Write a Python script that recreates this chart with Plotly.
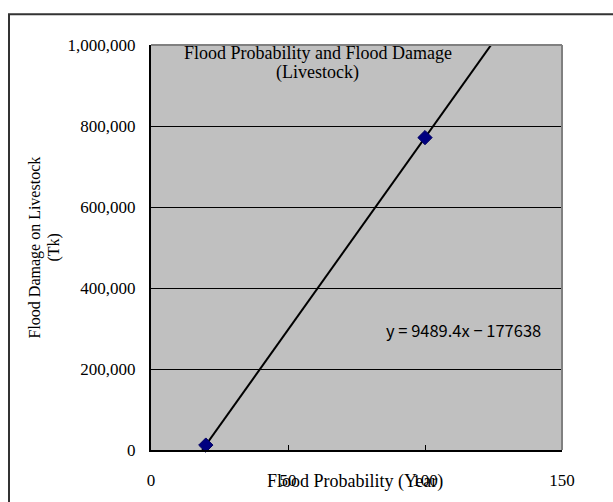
import plotly.graph_objects as go

# Data
return_period = [20, 100]          # Flood probability (year)
damage = [12150, 771300]            # Flood damage on livestock (Tk)

# Trendline shown on the chart: y = 9489.4x - 177638
slope = 9489.4
intercept = -177638
trend_x = [18.7, 130]
trend_y = [slope * x + intercept for x in trend_x]

x_ticks = [0, 50, 100, 150]
y_ticks = [0, 200000, 400000, 600000, 800000, 1000000]

W, H = 613, 502
L, R, T, B = 151, 51, 45, 50
pw, ph = W - L - R, H - T - B

def px(xpix):
    return (xpix - L) / pw

def py(ypix):
    return (H - B - ypix) / ph

serif = "Liberation Serif, Times New Roman, serif"

fig = go.Figure()
fig.add_trace(go.Scatter(
    x=trend_x, y=trend_y, mode="lines",
    line=dict(color="black", width=2), showlegend=False, hoverinfo="skip"))
fig.add_trace(go.Scatter(
    x=return_period, y=damage, mode="markers",
    marker=dict(symbol="diamond", size=11, color="#000080",
                line=dict(color="#000060", width=1)),
    showlegend=False, cliponaxis=False))

fig.update_layout(
    width=W, height=H,
    margin=dict(l=L, r=R, t=T, b=B),
    paper_bgcolor="white", plot_bgcolor="#c0c0c0",
    font=dict(family=serif, size=17, color="black"),
    xaxis=dict(range=[0, 150], tickvals=x_ticks, ticktext=[str(v) for v in x_ticks],
               showgrid=False, zeroline=False,
               showline=True, linecolor="black", linewidth=2,
               ticks="inside", ticklen=5, tickcolor="black",
               ticklabelstandoff=14, tickfont=dict(family=serif, size=17, color="black")),
    yaxis=dict(range=[0, 1000000], tickvals=y_ticks,
               ticktext=[f"{v:,}" for v in y_ticks],
               showgrid=True, gridcolor="black", gridwidth=1, zeroline=False,
               showline=True, linecolor="black", linewidth=2,
               ticks="inside", ticklen=5, tickcolor="black",
               ticklabelstandoff=10, tickfont=dict(family=serif, size=17, color="black")),
    shapes=[
        # plot-area top/right border (gray)
        dict(type="line", xref="paper", yref="paper", x0=0, x1=1, y0=1, y1=1,
             line=dict(color="#808080", width=2), layer="above"),
        dict(type="line", xref="paper", yref="paper", x0=1, x1=1, y0=0, y1=1,
             line=dict(color="#808080", width=2), layer="above"),
        # outer chart border
        dict(type="rect", xref="paper", yref="paper",
             x0=px(9), x1=px(640), y0=py(530), y1=py(14),
             line=dict(color="#333333", width=2)),
    ],
    annotations=[
        dict(text="Flood Probability and Flood Damage", xref="paper", yref="paper",
             x=px(317.5), y=py(53), showarrow=False, xanchor="center", yanchor="middle",
             font=dict(family=serif, size=18)),
        dict(text="(Livestock)", xref="paper", yref="paper",
             x=px(317.5), y=py(73), showarrow=False, xanchor="center", yanchor="middle",
             font=dict(family=serif, size=18)),
        dict(text="Flood Probability (Year)", xref="paper", yref="paper",
             x=px(355), y=py(484), showarrow=False, xanchor="center", yanchor="middle",
             font=dict(family=serif, size=18)),
        dict(text="Flood Damage on Livestock", xref="paper", yref="paper",
             x=px(34), y=py(248.5), showarrow=False, textangle=-90,
             xanchor="center", yanchor="middle", font=dict(family=serif, size=16)),
        dict(text="(Tk)", xref="paper", yref="paper",
             x=px(53), y=py(248.5), showarrow=False, textangle=-90,
             xanchor="center", yanchor="middle", font=dict(family=serif, size=16)),
        dict(text="y = 9489.4x − 177638", xref="paper", yref="paper",
             x=px(463.5), y=py(331), showarrow=False, xanchor="center", yanchor="middle",
             font=dict(family="Noto Sans CJK JP", size=16.5)),
    ],
)

fig.write_html("out.html")
